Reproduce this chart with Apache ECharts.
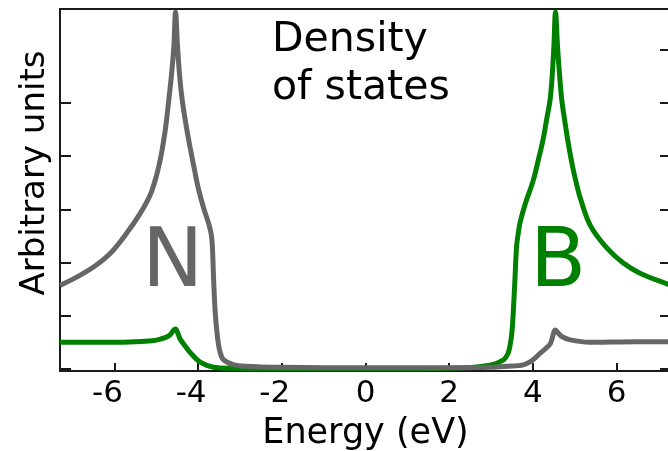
<!DOCTYPE html>
<html>
<head>
<meta charset="utf-8">
<script src="https://cdn.jsdelivr.net/npm/echarts@6/dist/echarts.min.js"></script>
<style>html,body{margin:0;padding:0;background:#fff}#c{width:668px;height:451px}</style>
</head>
<body>
<div id="c"></div>
<script>
// Energy (eV) and DOS (arbitrary units)
const nEnergy = [-7.30,-6.89,-6.49,-6.09,-5.70,-5.38,-5.14,-5.00,-4.92,-4.86,-4.78,-4.70,-4.64,-4.58,-4.54,-4.49,-4.44,-4.38,-4.28,-4.18,-4.08,-3.99,-3.87,-3.75,-3.69,-3.66,-3.63,-3.59,-3.53,-3.47,-3.39,-3.16,-2.87,-2.0,0,2.0,3.0,3.40,3.77,4.0,4.17,4.30,4.42,4.54,4.62,4.69,4.89,5.37,6.5,7.30];
const nDos    = [1.57,1.73,1.92,2.18,2.56,2.93,3.28,3.62,3.88,4.12,4.52,5.06,5.50,6.05,6.71,6.05,5.50,5.06,4.55,4.12,3.72,3.38,3.03,2.74,2.55,2.32,1.70,1.05,0.55,0.30,0.17,0.08,0.05,0.03,0.02,0.02,0.03,0.05,0.075,0.17,0.29,0.38,0.48,0.73,0.66,0.61,0.545,0.50,0.51,0.51];
const bEnergy = [-7.30,-6.0,-5.5,-5.1,-4.90,-4.70,-4.54,-4.47,-4.42,-4.30,-4.18,-3.94,-3.63,-3.2,-2.0,0,2.0,2.98,3.30,3.40,3.45,3.50,3.53,3.57,3.61,3.65,3.69,3.77,3.85,4.01,4.12,4.24,4.33,4.41,4.46,4.50,4.54,4.59,4.64,4.69,4.77,4.85,4.95,5.03,5.13,5.37,5.76,6.16,6.56,7.20,7.30];
const bDos    = [0.50,0.50,0.51,0.53,0.56,0.62,0.75,0.64,0.55,0.42,0.30,0.12,0.03,0.01,0.0,0.0,0.01,0.07,0.17,0.28,0.42,0.70,1.05,1.67,2.30,2.55,2.74,2.98,3.18,3.55,3.90,4.30,4.70,5.06,5.50,6.05,6.71,6.05,5.50,5.06,4.62,4.22,3.80,3.52,3.22,2.70,2.28,1.99,1.80,1.60,1.58];
const xTicks = [-6,-4,-2,0,2,4,6];
const yTicksLeft = [0,1,2,3,4,5];
const yTicksRight = [0,1,2,3,4,5,6];

const gray = '#666666', green = '#008000', axisCol = '#1a1a1a';
const chart = echarts.init(document.getElementById('c'), null, {renderer:'canvas'});
const font = 'DejaVu Sans';
const pair = (xs, ys) => xs.map((x,i)=>[x, ys[i]]);
chart.setOption({
  animation:false,
  grid:{left:60,right:-3,top:9,bottom:80,outerBoundsMode:'none',containLabel:false},
  xAxis:[{
    type:'value',min:-7.3,max:7.3,position:'bottom',
    name:'Energy (eV)',nameLocation:'middle',nameGap:45,
    nameTextStyle:{fontFamily:font,fontSize:35,color:'#000'},
    axisLine:{show:true,onZero:false,lineStyle:{color:axisCol,width:2}},
    axisTick:{show:true,inside:true,length:8,customValues:xTicks,lineStyle:{color:axisCol,width:2}},
    axisLabel:{show:true,customValues:xTicks,margin:7,fontFamily:font,fontSize:31,color:'#000',
      formatter:v => v < 0 ? '{n|' + v + '}' : '{p|' + v + '}',
      rich:{n:{fontFamily:font,fontSize:31,color:'#000',padding:[0,14,0,0]},p:{fontFamily:font,fontSize:31,color:'#000'}}},
    splitLine:{show:false}
  },{
    type:'value',min:-7.3,max:7.3,position:'top',
    axisLine:{show:true,onZero:false,lineStyle:{color:axisCol,width:2}},
    axisTick:{show:false},axisLabel:{show:false},splitLine:{show:false}
  }],
  yAxis:[{
    type:'value',min:-0.04,max:6.77,position:'left',
    name:'Arbitrary units',nameLocation:'middle',nameGap:8,
    nameTextStyle:{fontFamily:font,fontSize:34,color:'#000',padding:[0,0,0,34]},
    axisLine:{show:true,onZero:false,lineStyle:{color:axisCol,width:2}},
    axisTick:{show:true,inside:true,length:11,customValues:yTicksLeft,lineStyle:{color:axisCol,width:2}},
    axisLabel:{show:false},splitLine:{show:false}
  },{
    type:'value',min:-0.04,max:6.77,position:'right',
    axisLine:{show:true,onZero:false,lineStyle:{color:axisCol,width:2}},
    axisTick:{show:true,inside:true,length:11,customValues:yTicksRight,lineStyle:{color:axisCol,width:2}},
    axisLabel:{show:false},splitLine:{show:false}
  }],
  series:[
    {type:'line',data:pair(bEnergy,bDos),showSymbol:false,smooth:0.35,
     lineStyle:{color:green,width:5,join:'round'},itemStyle:{color:green},z:2,clip:true},
    {type:'line',data:pair(nEnergy,nDos),showSymbol:false,smooth:0.35,
     lineStyle:{color:gray,width:5,join:'round'},itemStyle:{color:gray},z:3,clip:true}
  ],
  graphic:[
    {type:'text',left:272,top:16,style:{text:'Density\nof states',fontFamily:font,fontSize:41,lineHeight:48,fill:'#000'}},
    {type:'text',left:142,top:224,style:{text:'N',fontFamily:font,fontSize:82,lineHeight:82,fill:gray}},
    {type:'text',left:530,top:224,style:{text:'B',fontFamily:font,fontSize:82,lineHeight:82,fill:green}}
  ]
});
</script>
</body>
</html>
